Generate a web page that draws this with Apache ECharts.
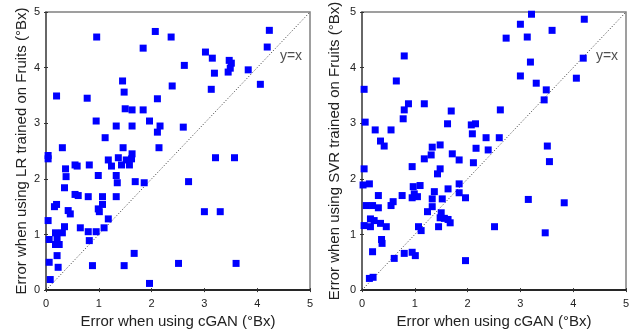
<!DOCTYPE html>
<html><head><meta charset="utf-8">
<script src="https://cdn.jsdelivr.net/npm/echarts@6/dist/echarts.min.js"></script>
<style>html,body{margin:0;padding:0;background:#fff}#c{width:643px;height:334px}</style>
</head><body><div id="c"></div>
<script>
// Left: cGAN error (x) vs LR error (y)
const lrPoints = [
[0.96,4.55],[2.07,4.65],[2.37,4.55],[1.84,4.35],[2.62,4.04],[1.45,3.76],[2.39,3.67],[1.48,3.56],
[0.20,3.49],[0.78,3.45],[2.11,3.44],[1.50,3.26],[1.63,3.24],[1.84,3.24],[0.95,3.04],[1.96,3.04],
[1.33,2.95],[1.63,2.95],[2.16,2.95],[2.60,2.93],[2.11,2.84],[1.12,2.74],[0.31,2.56],[1.46,2.56],
[2.14,2.56],[0.04,2.42],[0.04,2.36],[0.37,2.18],[0.55,2.25],[0.59,2.23],[0.82,2.25],[1.18,2.34],
[1.37,2.38],[1.63,2.45],[1.43,2.25],[1.24,2.23],[1.52,2.34],[1.62,2.36],[1.58,2.25],[0.38,2.04],
[0.99,2.06],[1.33,2.06],[1.35,1.93],[1.69,1.95],[1.86,1.93],[2.70,1.95],[0.35,1.84],[0.55,1.72],
[0.61,1.70],[0.80,1.68],[1.07,1.68],[1.33,1.68],[0.20,1.54],[0.16,1.50],[1.07,1.54],[0.99,1.46],
[1.01,1.41],[0.42,1.43],[0.46,1.37],[1.18,1.28],[0.04,1.25],[0.35,1.14],[0.65,1.12],[1.10,1.12],
[0.18,1.03],[0.31,1.03],[0.80,1.05],[0.95,1.05],[0.06,0.91],[0.21,0.93],[0.82,0.89],[0.18,0.82],
[0.25,0.82],[0.21,0.62],[1.67,0.66],[0.06,0.50],[0.23,0.41],[0.88,0.44],[1.48,0.44],[2.51,0.48],
[0.08,0.19],[1.96,0.12],
[4.23,4.67],[4.19,4.37],[3.02,4.28],[3.15,4.17],[3.47,4.13],[3.51,4.08],[3.49,3.99],[3.45,3.92],
[3.19,3.90],[3.83,3.96],[3.13,3.61],[4.06,3.70],
[3.21,2.38],[3.57,2.38],[3.00,1.41],[3.30,1.41],[3.60,0.48]
];
// Right: cGAN error (x) vs SVR error (y)
const svrPoints = [
[2.73,4.53],[0.80,4.21],[0.65,3.76],[0.04,3.61],[0.88,3.35],[1.18,3.35],[0.80,3.24],[1.69,3.22],
[2.62,3.24],[0.78,3.08],[0.06,3.02],[1.62,2.99],[2.07,2.97],[2.15,2.99],[0.25,2.88],[0.55,2.88],
[2.09,2.81],[0.35,2.68],[2.35,2.74],[2.60,2.74],[0.42,2.59],[1.33,2.57],[1.48,2.61],[2.16,2.55],
[2.39,2.52],
[1.31,2.43],[1.71,2.45],[1.18,2.36],[1.84,2.34],[2.11,2.29],[0.04,2.18],[0.95,2.22],[1.48,2.18],
[1.43,2.09],[0.02,1.89],[0.14,1.91],[0.97,1.86],[1.10,1.88],[1.84,1.91],[1.63,1.82],[1.37,1.77],
[1.84,1.75],[0.31,1.70],[0.76,1.70],[0.99,1.73],[0.95,1.66],[1.05,1.68],[1.33,1.64],[1.52,1.64],
[1.96,1.66],[0.59,1.59],[0.08,1.52],[0.20,1.52],[0.31,1.48],[0.55,1.52],[1.33,1.50],[1.24,1.41],
[1.50,1.39],[1.48,1.30],[1.63,1.27],[1.56,1.29],[1.67,1.21],[0.16,1.28],[0.23,1.25],[0.35,1.20],
[0.04,1.16],[0.16,1.14],[0.46,1.14],[1.07,1.14],[1.45,1.14],[1.12,1.07],[2.51,1.14],[0.37,0.91],
[0.38,0.84],[0.20,0.69],[0.80,0.66],[0.95,0.68],[1.01,0.62],[0.61,0.57],[1.96,0.53],[0.14,0.21],
[0.21,0.23],
[3.21,4.96],[3.00,4.78],[4.21,4.87],[3.60,4.67],[3.13,4.55],[3.19,4.10],[4.19,4.17],[3.00,3.85],
[4.06,3.81],[3.30,3.72],[3.49,3.60],[3.45,3.42],[3.51,2.59],
[3.55,2.31],[3.15,1.63],[3.83,1.57],[3.47,1.03]
];
const diagonal = [[0,0],[5,5]];
const diagLabelPos = [4.64,4.21];
const xTitle = 'Error when using cGAN (°Bx)';
const yTitles = ['Error when using LR trained on Fruits (°Bx)','Error when using SVR trained on Fruits (°Bx)'];
const axisMin = 0, axisMax = 5, axisStep = 1;

const FONT = 'Liberation Sans, Arial, sans-serif';
const grids = [
  {left:46, top:12, width:264, height:279, show:true, borderColor:'#808080', borderWidth:1.5},
  {left:362, top:12, width:264, height:279, show:true, borderColor:'#808080', borderWidth:1.5}
];
const yGaps = [17, 20];
const xAxes = [], yAxes = [];
[0,1].forEach(g => {
  xAxes.push({gridIndex:g, type:'value', min:axisMin, max:axisMax, interval:axisStep, position:'bottom',
    name:xTitle, nameLocation:'middle', nameGap:20,
    nameTextStyle:{fontFamily:FONT, fontSize:15, color:'#222'},
    axisLine:{onZero:false, lineStyle:{color:'#000', width:1.5}},
    axisTick:{inside:true, length:2, lineStyle:{color:'#333'}},
    axisLabel:{fontFamily:FONT, fontSize:11, color:'#222', margin:8},
    splitLine:{show:false}});
  yAxes.push({gridIndex:g, type:'value', min:axisMin, max:axisMax, interval:axisStep, position:'left',
    name:yTitles[g], nameLocation:'middle', nameGap:yGaps[g],
    nameTextStyle:{fontFamily:FONT, fontSize:15, color:'#222'},
    axisLine:{onZero:false, lineStyle:{color:'#555', width:1.5}},
    axisTick:{inside:true, length:2, lineStyle:{color:'#333'}},
    axisLabel:{fontFamily:FONT, fontSize:11, color:'#222', margin:6},
    splitLine:{show:false}});
});
[0,1].forEach(g => {
  xAxes.push({gridIndex:g, type:'value', min:axisMin, max:axisMax, interval:axisStep, position:'top',
    axisLine:{show:false}, axisTick:{inside:true, length:2, lineStyle:{color:'#333'}},
    axisLabel:{show:false}, splitLine:{show:false}});
  yAxes.push({gridIndex:g, type:'value', min:axisMin, max:axisMax, interval:axisStep, position:'right',
    axisLine:{show:false}, axisTick:{inside:true, length:2, lineStyle:{color:'#333'}},
    axisLabel:{show:false}, splitLine:{show:false}});
});
const series = [];
[lrPoints, svrPoints].forEach((pts, g) => {
  series.push({type:'line', xAxisIndex:g, yAxisIndex:g, data:diagonal, symbol:'none', silent:true,
    lineStyle:{color:'#333', width:1, type:[1,2]}, z:1});
  series.push({type:'scatter', xAxisIndex:g, yAxisIndex:g, data:pts, symbol:'rect', symbolSize:7,
    itemStyle:{color:'#0000ff', opacity:1}, z:3});
  series.push({type:'scatter', xAxisIndex:g, yAxisIndex:g, data:[diagLabelPos], symbolSize:0, silent:true,
    label:{show:true, position:'inside', formatter:'y=x', fontFamily:FONT, fontSize:14, color:'#222'}, z:4});
});
const chart = echarts.init(document.getElementById('c'), null, {renderer:'canvas'});
chart.setOption({animation:false, backgroundColor:'#fff', grid:grids, xAxis:xAxes, yAxis:yAxes, series:series});
</script></body></html>
